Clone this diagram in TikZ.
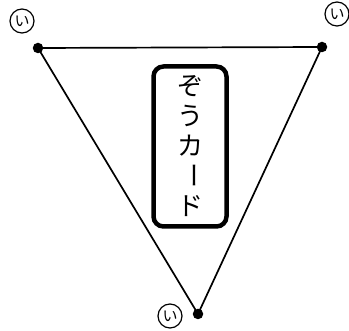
\documentclass[tikz,border=0pt]{standalone}
\usepackage{fontspec}
\newfontfamily\cjk{Noto Sans CJK JP}
\usetikzlibrary{positioning}

\begin{document}
\begin{tikzpicture}[
    x=1pt, y=-1pt,
    edge/.style={draw=black, line width=1.7pt},
    vertex/.style={circle, fill=black, inner sep=0pt, minimum size=10.5pt},
    vlabel/.style={circle, draw=black, line width=1.2pt, inner sep=0pt, minimum size=24pt,
        font=\cjk\fontsize{15}{15}\selectfont},
    card/.style={rectangle, rounded corners=10pt, draw=black, line width=4.5pt,
        minimum width=73pt, minimum height=160pt}
]
\useasboundingbox (0,0) rectangle (349,331);

% =========================================================
% Triangle
% =========================================================
\node[vertex] (tl) at (38,48) {};
\node[vertex] (tr) at (322,47) {};
\node[vertex] (bt) at (198,314) {};

\draw[edge] (tl.center) -- (tr.center) -- (bt.center) -- cycle;

% Vertex labels
\node[vlabel] (ltl) at (22,21) {い};
\node[vlabel] (ltr) at (337,14) {い};
\node[vlabel] (lbt) at (170,316) {い};

% =========================================================
% Card
% =========================================================
\node[card] (box) at (190,146.5) {};
\begin{scope}[font=\cjk\fontsize{26}{26}\selectfont]
\node (c1) at (190,86) {ぞ};
\node (c2) at (190,116) {う};
\node (c3) at (190,146) {カ};
\node[rotate=-90] (c4) at (190,176) {ー};
\node (c5) at (190,206) {ド};
\end{scope}

\end{tikzpicture}
\end{document}
